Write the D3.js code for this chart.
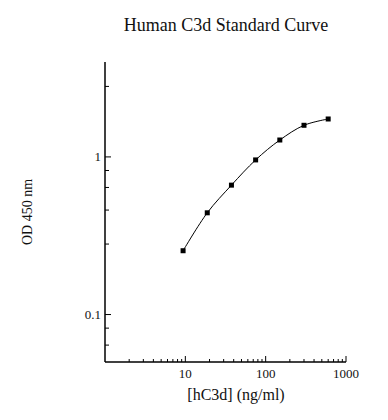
<!DOCTYPE html>
<html>
<head>
<meta charset="utf-8">
<script src="https://cdn.jsdelivr.net/npm/d3@7"></script>
<style>
  body { margin: 0; background: #fff; }
  text { font-family: "Liberation Serif", "Times New Roman", serif; fill: #111; }
</style>
</head>
<body>
<div id="chart"></div>
<script>
// standard concentrations (ng/ml) and OD readings
const conc = [9.375, 18.75, 37.5, 75, 150, 300, 600];
const od = [0.254, 0.442, 0.662, 0.957, 1.28, 1.587, 1.74];

const xMajor = [10, 100, 1000];
const yMajor = [0.1, 1];
// minor ticks as drawn in the original plot
const xMinor = [2, 3, 4, 5, 6, 7, 8, 9, 20, 30, 40, 50, 60, 70, 80, 90, 200, 300, 400, 500, 600, 700, 800, 900];
const yMinor = [0.064, 0.082, 0.28, 0.46, 0.64, 0.82, 2.8];

const width = 388, height = 420;
const margin = {top: 62, right: 42, bottom: 58, left: 105};

const svg = d3.select("#chart").append("svg")
    .attr("width", width)
    .attr("height", height);

const x = d3.scaleLog()
    .domain([1, 1000])
    .range([margin.left, width - margin.right]);

const y = d3.scaleLog()
    .domain([0.05, 4])
    .range([height - margin.bottom, margin.top]);

// title
svg.append("text")
    .attr("x", 226)
    .attr("y", 31)
    .attr("text-anchor", "middle")
    .style("font-size", "18px")
    .text("Human C3d Standard Curve");

// x axis
let xAxis = svg.append("g")
    .attr("transform", `translate(0, ${height - margin.bottom})`);

xAxis.append("line")
    .attr("x1", x.range()[0]).attr("x2", x.range()[1])
    .attr("stroke", "#000").attr("stroke-width", 1.5);

xAxis.selectAll(".minor")
    .data(xMinor)
    .enter().append("line")
    .attr("x1", d => x(d)).attr("x2", d => x(d))
    .attr("y1", 0).attr("y2", -3)
    .attr("stroke", "#000");

xAxis.selectAll(".major")
    .data(xMajor)
    .enter().append("line")
    .attr("x1", d => x(d)).attr("x2", d => x(d))
    .attr("y1", 0).attr("y2", -6)
    .attr("stroke", "#000");

xAxis.selectAll(".lbl")
    .data(xMajor)
    .enter().append("text")
    .attr("x", d => x(d))
    .attr("y", 16)
    .attr("text-anchor", "middle")
    .style("font-size", "13px")
    .text(d => d);

svg.append("text")
    .attr("x", 236)
    .attr("y", 400)
    .attr("text-anchor", "middle")
    .style("font-size", "16px")
    .text("[hC3d] (ng/ml)");

// y axis
let yAxis = svg.append("g")
    .attr("transform", `translate(${margin.left}, 0)`);

yAxis.append("line")
    .attr("y1", y.range()[0]).attr("y2", y.range()[1])
    .attr("stroke", "#000").attr("stroke-width", 1.5);

yAxis.selectAll(".minor")
    .data(yMinor)
    .enter().append("line")
    .attr("y1", d => y(d)).attr("y2", d => y(d))
    .attr("x1", 0).attr("x2", 4)
    .attr("stroke", "#000");

yAxis.selectAll(".major")
    .data(yMajor)
    .enter().append("line")
    .attr("y1", d => y(d)).attr("y2", d => y(d))
    .attr("x1", 0).attr("x2", 6)
    .attr("stroke", "#000");

yAxis.selectAll(".lbl")
    .data(yMajor)
    .enter().append("text")
    .attr("x", -4)
    .attr("y", d => y(d))
    .attr("dy", "0.35em")
    .attr("text-anchor", "end")
    .style("font-size", "13px")
    .text(d => d);

svg.append("text")
    .attr("transform", `translate(32, 212) rotate(-90)`)
    .attr("text-anchor", "middle")
    .style("font-size", "14px")
    .text("OD 450 nm");

// curve through the standards
let pts = conc.map((c, i) => [x(c), y(od[i])]);

svg.append("path")
    .attr("d", d3.line().curve(d3.curveCatmullRom)(pts))
    .attr("fill", "none")
    .attr("stroke", "#000")
    .attr("stroke-width", 1);

svg.selectAll(".pt")
    .data(pts)
    .enter().append("rect")
    .attr("x", d => d[0] - 2.5)
    .attr("y", d => d[1] - 2.5)
    .attr("width", 5)
    .attr("height", 5)
    .attr("fill", "#000");
</script>
</body>
</html>
